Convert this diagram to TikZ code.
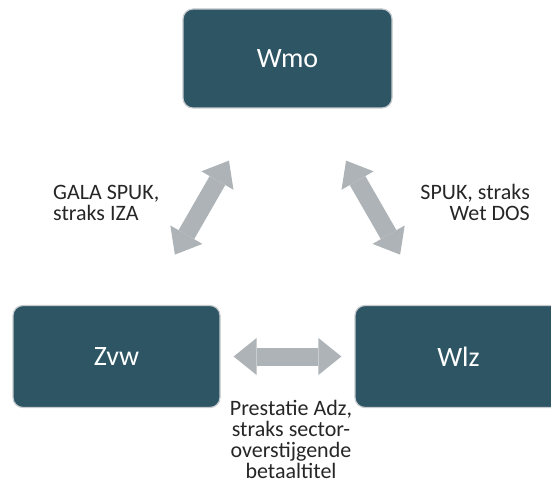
\documentclass[tikz,border=0pt]{standalone}
\usepackage{fontspec}
\setmainfont{Carlito}
\usetikzlibrary{arrows.meta}

\definecolor{wetblauw}{HTML}{2E5564}
\definecolor{wetrand}{HTML}{C5CBCE}
\definecolor{pijlgrijs}{HTML}{ADB3B6}

\tikzset{
  wet/.style={draw=wetrand, line width=1.2pt, fill=wetblauw, rounded corners=10pt,
    text=white, font=\fontsize{28}{32}\selectfont,
    minimum width=207pt, minimum height=102pt, inner sep=0pt},
  pijl/.style={draw=pijlgrijs, line width=18pt,
    {Triangle[width=37pt,length=23pt,line width=0pt]}-{Triangle[width=37pt,length=23pt,line width=0pt]}},
  uitleg/.style={font=\fontsize{22}{21}\selectfont, inner sep=0pt, text=black!85}
}

\begin{document}
\begin{tikzpicture}[x=1pt,y=-1pt]
\useasboundingbox (0,0) rectangle (551,484);

\node[wet, minimum width=209pt, minimum height=99pt] (wmo) at (287.5,58.5) {Wmo};
\node[wet] (zvw) at (116.5,356.5) {Zvw};
\node[wet] (wlz) at (458.5,356.5) {Wlz};

\draw[pijl, shorten <=60pt, shorten >=58pt] (wmo) -- (zvw);
\draw[pijl, shorten <=60pt, shorten >=58pt] (wmo) -- (wlz);
\draw[pijl, shorten <=13pt, shorten >=13pt] (zvw) -- (wlz);

% base = baseline of the last line
\node[uitleg, align=left, anchor=base west] (gala) at (53,220) {GALA SPUK,\\straks IZA};
\node[uitleg, align=right, anchor=base east] (spuk) at (530,220) {SPUK, straks\\Wet DOS};
\node[uitleg, align=center, anchor=base] (adz) at (291,478) {Prestatie Adz,\\straks sector-\\overstijgende\\betaaltitel};
\end{tikzpicture}
\end{document}
